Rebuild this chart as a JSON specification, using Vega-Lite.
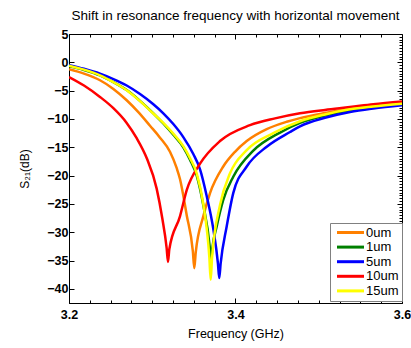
{
  "$schema": "https://vega.github.io/schema/vega-lite/v6.json",
  "width": 333,
  "height": 269,
  "autosize": "none",
  "padding": {"left": 69, "top": 34, "right": 9, "bottom": 45},
  "background": "white",
  "config": {
    "font": "Liberation Sans",
    "view": {"stroke": "black", "strokeWidth": 1},
    "axis": {"domainColor": "black", "tickColor": "black", "labelColor": "black", "titleColor": "black", "grid": false, "domainWidth": 1, "tickWidth": 1}
  },
  "title": {"text": "Shift in resonance frequency with horizontal movement", "fontSize": 13.5, "fontWeight": "normal", "anchor": "middle", "offset": 6, "color": "black", "font": "Liberation Sans"},
  "data": {"values": [
    {"f": 3.2, "s": -1.23, "d": "0um"},
    {"f": 3.218, "s": -2.0, "d": "0um"},
    {"f": 3.2372, "s": -3.17, "d": "0um"},
    {"f": 3.2533, "s": -4.7, "d": "0um"},
    {"f": 3.2693, "s": -6.7, "d": "0um"},
    {"f": 3.2833, "s": -8.8, "d": "0um"},
    {"f": 3.2973, "s": -11.2, "d": "0um"},
    {"f": 3.3093, "s": -13.3, "d": "0um"},
    {"f": 3.3213, "s": -15.8, "d": "0um"},
    {"f": 3.3294, "s": -18.7, "d": "0um"},
    {"f": 3.3333, "s": -20.6, "d": "0um"},
    {"f": 3.3414, "s": -27.0, "d": "0um"},
    {"f": 3.3488, "s": -33.4, "d": "0um"},
    {"f": 3.3505, "s": -36.35, "d": "0um"},
    {"f": 3.3522, "s": -33.6, "d": "0um"},
    {"f": 3.3613, "s": -27.2, "d": "0um"},
    {"f": 3.3694, "s": -23.1, "d": "0um"},
    {"f": 3.3853, "s": -18.4, "d": "0um"},
    {"f": 3.3994, "s": -15.8, "d": "0um"},
    {"f": 3.4135, "s": -13.9, "d": "0um"},
    {"f": 3.4375, "s": -11.8, "d": "0um"},
    {"f": 3.4615, "s": -10.5, "d": "0um"},
    {"f": 3.4775, "s": -9.85, "d": "0um"},
    {"f": 3.5075, "s": -8.95, "d": "0um"},
    {"f": 3.5375, "s": -8.2, "d": "0um"},
    {"f": 3.5655, "s": -7.65, "d": "0um"},
    {"f": 3.6, "s": -7.1, "d": "0um"},

    {"f": 3.2, "s": -0.7, "d": "1um"},
    {"f": 3.218, "s": -1.35, "d": "1um"},
    {"f": 3.2372, "s": -2.3, "d": "1um"},
    {"f": 3.2533, "s": -3.5, "d": "1um"},
    {"f": 3.2693, "s": -4.9, "d": "1um"},
    {"f": 3.2853, "s": -6.8, "d": "1um"},
    {"f": 3.3013, "s": -9.0, "d": "1um"},
    {"f": 3.3133, "s": -10.8, "d": "1um"},
    {"f": 3.3253, "s": -12.8, "d": "1um"},
    {"f": 3.3373, "s": -15.0, "d": "1um"},
    {"f": 3.3453, "s": -17.2, "d": "1um"},
    {"f": 3.3534, "s": -20.0, "d": "1um"},
    {"f": 3.3613, "s": -25.2, "d": "1um"},
    {"f": 3.3690, "s": -32.5, "d": "1um"},
    {"f": 3.3706, "s": -35.2, "d": "1um"},
    {"f": 3.3722, "s": -32.8, "d": "1um"},
    {"f": 3.3774, "s": -29.0, "d": "1um"},
    {"f": 3.3853, "s": -24.3, "d": "1um"},
    {"f": 3.3973, "s": -20.2, "d": "1um"},
    {"f": 3.4214, "s": -15.6, "d": "1um"},
    {"f": 3.4535, "s": -12.4, "d": "1um"},
    {"f": 3.4775, "s": -10.7, "d": "1um"},
    {"f": 3.5075, "s": -9.4, "d": "1um"},
    {"f": 3.5375, "s": -8.46, "d": "1um"},
    {"f": 3.5655, "s": -7.9, "d": "1um"},
    {"f": 3.6, "s": -7.4, "d": "1um"},

    {"f": 3.2, "s": -0.5, "d": "5um"},
    {"f": 3.218, "s": -1.15, "d": "5um"},
    {"f": 3.2372, "s": -2.0, "d": "5um"},
    {"f": 3.2533, "s": -2.95, "d": "5um"},
    {"f": 3.2693, "s": -4.1, "d": "5um"},
    {"f": 3.2853, "s": -5.6, "d": "5um"},
    {"f": 3.3013, "s": -7.4, "d": "5um"},
    {"f": 3.3133, "s": -9.0, "d": "5um"},
    {"f": 3.3253, "s": -10.9, "d": "5um"},
    {"f": 3.3373, "s": -13.2, "d": "5um"},
    {"f": 3.3493, "s": -16.2, "d": "5um"},
    {"f": 3.3574, "s": -18.9, "d": "5um"},
    {"f": 3.3654, "s": -23.6, "d": "5um"},
    {"f": 3.3733, "s": -29.4, "d": "5um"},
    {"f": 3.3789, "s": -35.5, "d": "5um"},
    {"f": 3.3805, "s": -38.1, "d": "5um"},
    {"f": 3.3821, "s": -35.6, "d": "5um"},
    {"f": 3.3894, "s": -29.0, "d": "5um"},
    {"f": 3.3973, "s": -23.1, "d": "5um"},
    {"f": 3.4135, "s": -18.4, "d": "5um"},
    {"f": 3.4375, "s": -14.9, "d": "5um"},
    {"f": 3.4655, "s": -12.3, "d": "5um"},
    {"f": 3.4775, "s": -11.3, "d": "5um"},
    {"f": 3.5075, "s": -9.8, "d": "5um"},
    {"f": 3.5375, "s": -8.76, "d": "5um"},
    {"f": 3.5655, "s": -8.15, "d": "5um"},
    {"f": 3.6, "s": -7.6, "d": "5um"},

    {"f": 3.2, "s": -2.59, "d": "10um"},
    {"f": 3.218, "s": -4.1, "d": "10um"},
    {"f": 3.2372, "s": -6.11, "d": "10um"},
    {"f": 3.2533, "s": -8.1, "d": "10um"},
    {"f": 3.2693, "s": -10.7, "d": "10um"},
    {"f": 3.2813, "s": -13.4, "d": "10um"},
    {"f": 3.2933, "s": -16.9, "d": "10um"},
    {"f": 3.3053, "s": -22.3, "d": "10um"},
    {"f": 3.312, "s": -27.5, "d": "10um"},
    {"f": 3.3173, "s": -32.8, "d": "10um"},
    {"f": 3.3189, "s": -35.24, "d": "10um"},
    {"f": 3.3205, "s": -33.0, "d": "10um"},
    {"f": 3.3333, "s": -27.2, "d": "10um"},
    {"f": 3.3414, "s": -22.56, "d": "10um"},
    {"f": 3.3574, "s": -17.9, "d": "10um"},
    {"f": 3.3814, "s": -13.9, "d": "10um"},
    {"f": 3.4174, "s": -11.1, "d": "10um"},
    {"f": 3.4475, "s": -9.9, "d": "10um"},
    {"f": 3.4775, "s": -9.0, "d": "10um"},
    {"f": 3.5075, "s": -8.4, "d": "10um"},
    {"f": 3.5375, "s": -7.9, "d": "10um"},
    {"f": 3.5655, "s": -7.4, "d": "10um"},
    {"f": 3.6, "s": -6.9, "d": "10um"},

    {"f": 3.2, "s": -0.6, "d": "15um"},
    {"f": 3.218, "s": -1.3, "d": "15um"},
    {"f": 3.2372, "s": -2.29, "d": "15um"},
    {"f": 3.2533, "s": -3.5, "d": "15um"},
    {"f": 3.2693, "s": -4.93, "d": "15um"},
    {"f": 3.2853, "s": -6.85, "d": "15um"},
    {"f": 3.3013, "s": -9.04, "d": "15um"},
    {"f": 3.3133, "s": -10.7, "d": "15um"},
    {"f": 3.3253, "s": -12.6, "d": "15um"},
    {"f": 3.3373, "s": -14.8, "d": "15um"},
    {"f": 3.3453, "s": -16.9, "d": "15um"},
    {"f": 3.3534, "s": -19.6, "d": "15um"},
    {"f": 3.3613, "s": -25.0, "d": "15um"},
    {"f": 3.3686, "s": -34.5, "d": "15um"},
    {"f": 3.3702, "s": -38.4, "d": "15um"},
    {"f": 3.3718, "s": -34.6, "d": "15um"},
    {"f": 3.3814, "s": -25.2, "d": "15um"},
    {"f": 3.3934, "s": -19.6, "d": "15um"},
    {"f": 3.4135, "s": -15.5, "d": "15um"},
    {"f": 3.4454, "s": -12.5, "d": "15um"},
    {"f": 3.4775, "s": -10.4, "d": "15um"},
    {"f": 3.5075, "s": -9.2, "d": "15um"},
    {"f": 3.5375, "s": -8.3, "d": "15um"},
    {"f": 3.5655, "s": -7.8, "d": "15um"},
    {"f": 3.6, "s": -7.3, "d": "15um"}
  ]},
  "layer": [
    {
      "mark": {"type": "line", "strokeWidth": 2.5, "clip": true, "interpolate": "monotone"},
      "encoding": {
        "x": {"field": "f", "type": "quantitative",
          "scale": {"domain": [3.2, 3.6], "nice": false, "zero": false},
          "axis": {"orient": "bottom", "title": "Frequency (GHz)", "titleFontSize": 12.5, "titleFontWeight": "normal", "titlePadding": 5,
            "values": [3.2, 3.225, 3.25, 3.275, 3.3, 3.325, 3.35, 3.375, 3.4, 3.425, 3.45, 3.475, 3.5, 3.525, 3.55, 3.575, 3.6],
            "labelExpr": "abs(datum.value*5 - round(datum.value*5)) < 0.001 ? format(datum.value, '.1f') : ''",
            "labelFontWeight": "bold", "labelFontSize": 12.5, "labelOverlap": false, "labelPadding": 10, "labelFlush": false,
            "tickSize": {"condition": {"test": "abs(datum.value*5 - round(datum.value*5)) < 0.001", "value": -5}, "value": -3}}},
        "y": {"field": "s", "type": "quantitative",
          "scale": {"domain": [-42.5, 5], "nice": false, "zero": false},
          "axis": {"orient": "left", "title": "S₂₁(dB)", "titleFontSize": 12, "titleFontWeight": "normal", "titlePadding": 15,
            "values": [-40, -35, -30, -25, -20, -15, -10, -5, 0, 5],
            "labelFontWeight": "bold", "labelFontSize": 12.5, "labelPadding": 6, "tickSize": -5, "labelFlush": false}},
        "color": {"field": "d", "type": "nominal",
          "scale": {"domain": ["0um", "1um", "5um", "10um", "15um"], "range": ["#FF8000", "#008000", "#0000FF", "#FF0000", "#FFFF00"]},
          "legend": {"title": null, "orient": "none", "legendX": 261, "legendY": 189,
            "symbolType": "M-3,0H3", "symbolSize": 81, "symbolStrokeWidth": 3, "symbolFillColor": "transparent", "symbolOffset": 11,
            "labelFontSize": 13, "labelFont": "Liberation Sans", "labelColor": "black", "rowPadding": 0.6, "padding": 3,
            "strokeColor": "#808080", "fillColor": "white", "labelOffset": 9}},
        "order": {"field": "d"}
      }
    },
    {
      "mark": {"type": "line", "opacity": 0},
      "encoding": {
        "x": {"field": "f", "type": "quantitative",
          "axis": {"orient": "top", "title": null, "labels": false, "domain": false,
            "values": [3.2, 3.225, 3.25, 3.275, 3.3, 3.325, 3.35, 3.375, 3.4, 3.425, 3.45, 3.475, 3.5, 3.525, 3.55, 3.575, 3.6],
            "tickSize": {"condition": {"test": "abs(datum.value*5 - round(datum.value*5)) < 0.001", "value": -5}, "value": -3}}},
        "y": {"field": "s", "type": "quantitative",
          "axis": {"orient": "right", "title": null, "labels": false, "domain": false,
            "values": [-42, -41.5, -41, -40.5, -40, -39.5, -39, -38.5, -38, -37.5, -37, -36.5, -36, -35.5, -35, -34.5, -34, -33.5, -33, -32.5, -32, -31.5, -31, -30.5, -30, -29.5, -29, -28.5, -28, -27.5, -27, -26.5, -26, -25.5, -25, -24.5, -24, -23.5, -23, -22.5, -22, -21.5, -21, -20.5, -20, -19.5, -19, -18.5, -18, -17.5, -17, -16.5, -16, -15.5, -15, -14.5, -14, -13.5, -13, -12.5, -12, -11.5, -11, -10.5, -10, -9.5, -9, -8.5, -8, -7.5, -7, -6.5, -6, -5.5, -5, -4.5, -4, -3.5, -3, -2.5, -2, -1.5, -1, -0.5, 0, 0.5, 1, 1.5, 2, 2.5, 3, 3.5, 4, 4.5],
            "tickSize": {"condition": {"test": "abs(datum.value/5 - round(datum.value/5)) < 0.001", "value": -5}, "value": -3}}}
      }
    }
  ],
  "resolve": {"axis": {"x": "independent", "y": "independent"}}
}
